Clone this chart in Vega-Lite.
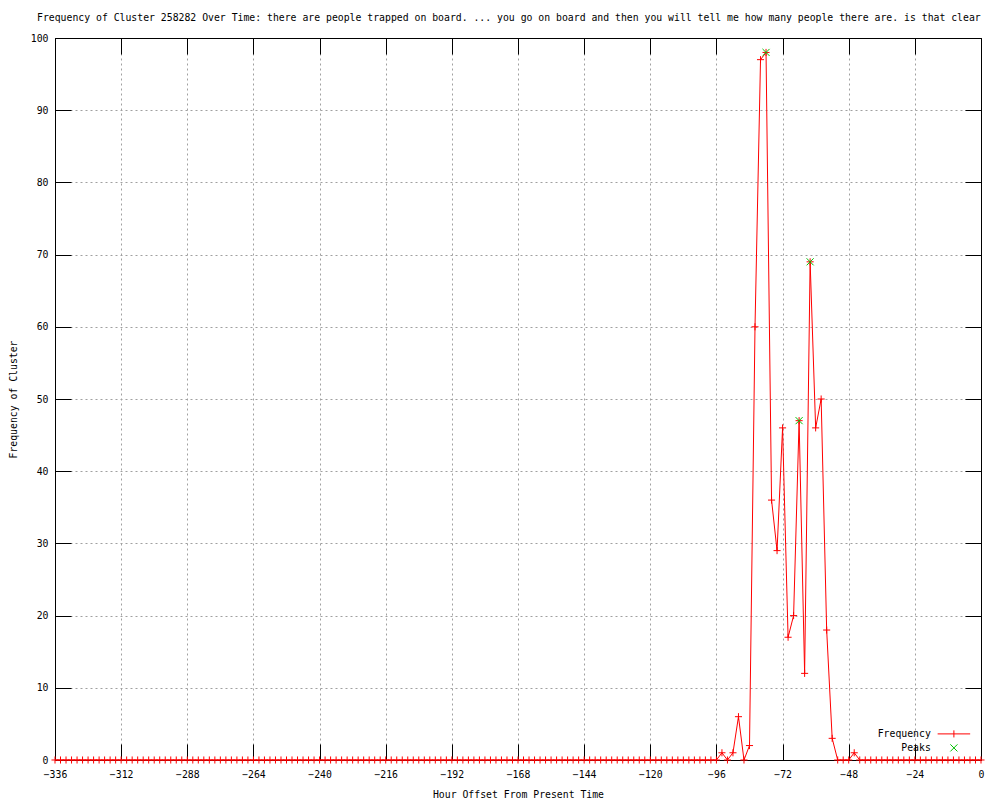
{
  "$schema": "https://vega.github.io/schema/vega-lite/v6.json",
  "width": 926,
  "height": 722,
  "autosize": "none",
  "padding": {"left": 55, "top": 38, "right": 19, "bottom": 40},
  "background": "white",
  "config": {
    "view": {"stroke": "black", "strokeWidth": 1},
    "font": "DejaVu Sans Mono",
    "axis": {"labelFont": "DejaVu Sans Mono", "titleFont": "DejaVu Sans Mono", "labelFontSize": 9.8, "titleFontSize": 9.8, "titleFontWeight": "normal", "labelColor": "black", "titleColor": "black", "domainColor": "black", "tickColor": "black", "gridColor": "#a0a0a0", "gridDash": [2, 3], "gridWidth": 1}
  },
  "title": {"text": "Frequency of Cluster 258282 Over Time: there are people trapped on board. ... you go on board and then you will tell me how many people there are. is that clear", "anchor": "start", "frame": "group", "dx": -18, "font": "DejaVu Sans Mono", "fontSize": 9.8, "fontWeight": "normal", "color": "black", "offset": 10},
  "datasets": {
    "freq": [
      {"h":-336,"f":0},{"h":-334,"f":0},{"h":-332,"f":0},{"h":-330,"f":0},{"h":-328,"f":0},{"h":-326,"f":0},{"h":-324,"f":0},{"h":-322,"f":0},{"h":-320,"f":0},{"h":-318,"f":0},{"h":-316,"f":0},{"h":-314,"f":0},{"h":-312,"f":0},{"h":-310,"f":0},{"h":-308,"f":0},{"h":-306,"f":0},{"h":-304,"f":0},{"h":-302,"f":0},{"h":-300,"f":0},{"h":-298,"f":0},{"h":-296,"f":0},{"h":-294,"f":0},{"h":-292,"f":0},{"h":-290,"f":0},{"h":-288,"f":0},{"h":-286,"f":0},{"h":-284,"f":0},{"h":-282,"f":0},{"h":-280,"f":0},{"h":-278,"f":0},{"h":-276,"f":0},{"h":-274,"f":0},{"h":-272,"f":0},{"h":-270,"f":0},{"h":-268,"f":0},{"h":-266,"f":0},{"h":-264,"f":0},{"h":-262,"f":0},{"h":-260,"f":0},{"h":-258,"f":0},{"h":-256,"f":0},{"h":-254,"f":0},{"h":-252,"f":0},{"h":-250,"f":0},{"h":-248,"f":0},{"h":-246,"f":0},{"h":-244,"f":0},{"h":-242,"f":0},{"h":-240,"f":0},{"h":-238,"f":0},{"h":-236,"f":0},{"h":-234,"f":0},{"h":-232,"f":0},{"h":-230,"f":0},{"h":-228,"f":0},{"h":-226,"f":0},{"h":-224,"f":0},{"h":-222,"f":0},{"h":-220,"f":0},{"h":-218,"f":0},{"h":-216,"f":0},{"h":-214,"f":0},{"h":-212,"f":0},{"h":-210,"f":0},{"h":-208,"f":0},{"h":-206,"f":0},{"h":-204,"f":0},{"h":-202,"f":0},{"h":-200,"f":0},{"h":-198,"f":0},{"h":-196,"f":0},{"h":-194,"f":0},{"h":-192,"f":0},{"h":-190,"f":0},{"h":-188,"f":0},{"h":-186,"f":0},{"h":-184,"f":0},{"h":-182,"f":0},{"h":-180,"f":0},{"h":-178,"f":0},{"h":-176,"f":0},{"h":-174,"f":0},{"h":-172,"f":0},{"h":-170,"f":0},{"h":-168,"f":0},{"h":-166,"f":0},{"h":-164,"f":0},{"h":-162,"f":0},{"h":-160,"f":0},{"h":-158,"f":0},{"h":-156,"f":0},{"h":-154,"f":0},{"h":-152,"f":0},{"h":-150,"f":0},{"h":-148,"f":0},{"h":-146,"f":0},{"h":-144,"f":0},{"h":-142,"f":0},{"h":-140,"f":0},{"h":-138,"f":0},{"h":-136,"f":0},{"h":-134,"f":0},{"h":-132,"f":0},{"h":-130,"f":0},{"h":-128,"f":0},{"h":-126,"f":0},{"h":-124,"f":0},{"h":-122,"f":0},{"h":-120,"f":0},{"h":-118,"f":0},{"h":-116,"f":0},{"h":-114,"f":0},{"h":-112,"f":0},{"h":-110,"f":0},{"h":-108,"f":0},{"h":-106,"f":0},{"h":-104,"f":0},{"h":-102,"f":0},{"h":-100,"f":0},{"h":-98,"f":0},{"h":-96,"f":0},
      {"h":-94,"f":1},{"h":-92,"f":0},{"h":-90,"f":1},{"h":-88,"f":6},{"h":-86,"f":0},{"h":-84,"f":2},{"h":-82,"f":60},{"h":-80,"f":97},{"h":-78,"f":98},{"h":-76,"f":36},{"h":-74,"f":29},{"h":-72,"f":46},{"h":-70,"f":17},{"h":-68,"f":20},{"h":-66,"f":47},{"h":-64,"f":12},{"h":-62,"f":69},{"h":-60,"f":46},{"h":-58,"f":50},{"h":-56,"f":18},{"h":-54,"f":3},{"h":-52,"f":0},{"h":-50,"f":0},{"h":-48,"f":0},{"h":-46,"f":1},
      {"h":-44,"f":0},{"h":-42,"f":0},{"h":-40,"f":0},{"h":-38,"f":0},{"h":-36,"f":0},{"h":-34,"f":0},{"h":-32,"f":0},{"h":-30,"f":0},{"h":-28,"f":0},{"h":-26,"f":0},{"h":-24,"f":0},{"h":-22,"f":0},{"h":-20,"f":0},{"h":-18,"f":0},{"h":-16,"f":0},{"h":-14,"f":0},{"h":-12,"f":0},{"h":-10,"f":0},{"h":-8,"f":0},{"h":-6,"f":0},{"h":-4,"f":0},{"h":-2,"f":0},{"h":0,"f":0}
    ],
    "peaks": [
      {"h":-78,"f":98},{"h":-66,"f":47},{"h":-62,"f":69}
    ]
  },
  "resolve": {"axis": {"x": "independent", "y": "independent"}},
  "layer": [
    {
      "data": {"name": "freq"},
      "mark": {"type": "line", "color": "#ff0000", "strokeWidth": 1},
      "encoding": {
        "x": {"field": "h", "type": "quantitative", "scale": {"domain": [-336, 0], "nice": false, "zero": false},
              "axis": {"values": [-336,-312,-288,-264,-240,-216,-192,-168,-144,-120,-96,-72,-48,-24,0], "title": "Hour Offset From Present Time", "tickSize": -16, "labelPadding": 25, "titlePadding": 11, "grid": true, "domain": true, "labelFlush": false}},
        "y": {"field": "f", "type": "quantitative", "scale": {"domain": [0, 100], "nice": false},
              "axis": {"values": [0,10,20,30,40,50,60,70,80,90,100], "title": "Frequency of Cluster", "tickSize": -16, "labelPadding": 23, "titlePadding": 12, "grid": true, "domain": true}}
      }
    },
    {
      "data": {"name": "freq"},
      "mark": {"type": "point", "filled": false, "strokeWidth": 1, "size": 50, "opacity": 1, "shape": "M-1,0L1,0M0,-1L0,1"},
      "encoding": {
        "x": {"field": "h", "type": "quantitative", "axis": {"orient": "top", "values": [-336,-312,-288,-264,-240,-216,-192,-168,-144,-120,-96,-72,-48,-24,0], "labels": false, "title": null, "tickSize": -16, "grid": false, "domain": true}},
        "y": {"field": "f", "type": "quantitative", "axis": {"orient": "right", "values": [0,10,20,30,40,50,60,70,80,90,100], "labels": false, "title": null, "tickSize": -16, "grid": false, "domain": true}},
        "color": {"datum": "Frequency", "scale": {"domain": ["Frequency", "Peaks"], "range": ["#ff0000", "#00c000"]}, "legend": {"title": null, "orient": "none", "legendX": 894, "legendY": 691, "labelAlign": "right", "labelOffset": -28, "labelFont": "DejaVu Sans Mono", "labelFontSize": 9.8, "labelColor": "black", "rowPadding": 2, "symbolStrokeWidth": 1, "symbolSize": 50}}
      }
    },
    {
      "data": {"name": "peaks"},
      "mark": {"type": "point", "filled": false, "strokeWidth": 1, "size": 50, "opacity": 1},
      "encoding": {
        "x": {"field": "h", "type": "quantitative", "axis": null},
        "y": {"field": "f", "type": "quantitative", "axis": null},
        "color": {"datum": "Peaks"},
        "shape": {"datum": "Peaks", "scale": {"domain": ["Frequency", "Peaks"], "range": ["M-4.6,0L4.6,0M0,-1L0,1", "M-1,-1L1,1M-1,1L1,-1"]}, "legend": {"title": null, "orient": "none", "legendX": 894, "legendY": 691, "labelAlign": "right", "labelOffset": -28, "labelFont": "DejaVu Sans Mono", "labelFontSize": 9.8, "labelColor": "black", "rowPadding": 2, "symbolStrokeWidth": 1, "symbolSize": 50}}
      }
    }
  ]
}
